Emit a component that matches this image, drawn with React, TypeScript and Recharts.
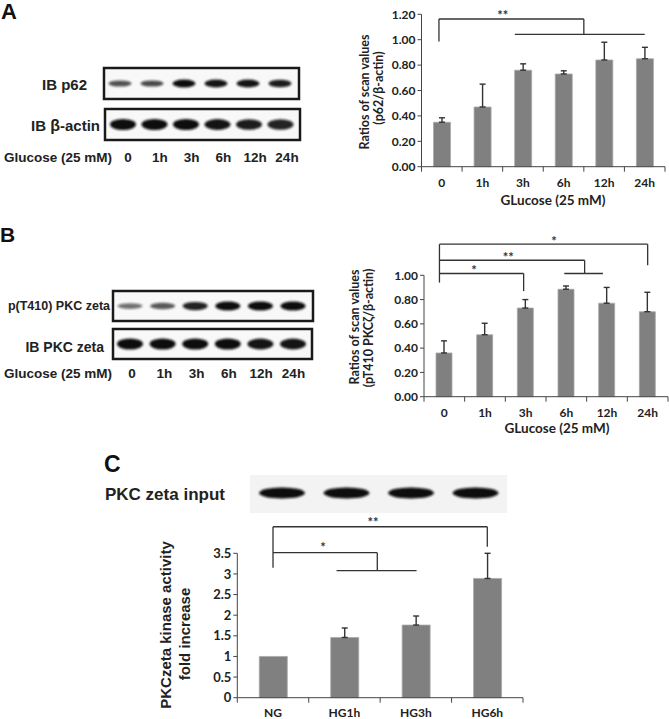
import React from "react";
import { BarChart, Bar, XAxis, YAxis, ErrorBar, ReferenceLine, ReferenceDot } from "recharts";

// A: p62 / beta-actin
const timeLabels = ["0", "1h", "3h", "6h", "12h", "24h"];
const p62Ratio = [0.35, 0.47, 0.76, 0.73, 0.84, 0.85];
const p62Err = [0.035, 0.18, 0.05, 0.025, 0.14, 0.09];
const p62Ticks = [0, 0.2, 0.4, 0.6, 0.8, 1.0, 1.2];

// B: pT410 PKCzeta / beta-actin
const pkcRatio = [0.36, 0.51, 0.73, 0.885, 0.77, 0.7];
const pkcErr = [0.1, 0.095, 0.07, 0.027, 0.13, 0.16];
const pkcTicks = [0, 0.2, 0.4, 0.6, 0.8, 1.0];

// C: kinase activity
const groupLabels = ["NG", "HG1h", "HG3h", "HG6h"];
const kinaseFold = [1.0, 1.46, 1.76, 2.89];
const kinaseErr = [null, 0.23, 0.22, 0.61];
const kinaseTicks = [0, 0.5, 1, 1.5, 2, 2.5, 3, 3.5];

// significance brackets, [x1, y1, x2, y2] in (bar index, value)
const p62Lines = [
  [-0.07, 0.985, -0.07, 1.163],
  [-0.07, 1.163, 3.5, 1.163],
  [3.5, 1.163, 3.5, 1.042],
  [1.8, 1.042, 5, 1.042],
];
const p62Stars: [number, number, string][] = [[1.5, 1.19, "**"]];

const pkcLines = [
  [-0.12, 0.94, -0.12, 1.256],
  [-0.12, 1.015, 1.95, 1.015],
  [1.95, 1.015, 1.95, 0.87],
  [-0.12, 1.124, 3.45, 1.124],
  [3.45, 1.124, 3.45, 1.015],
  [2.95, 1.015, 3.9, 1.015],
  [-0.12, 1.256, 5, 1.256],
  [5, 1.256, 5, 1.083],
];
const pkcStars: [number, number, string][] = [
  [0.73, 1.04, "*"],
  [1.57, 1.15, "**"],
  [2.7, 1.28, "*"],
];

const kinaseLines = [
  [0, 3.15, 0, 4.144],
  [0, 4.144, 3, 4.144],
  [3, 4.144, 3, 3.66],
  [0, 3.515, 1.46, 3.515],
  [1.46, 3.515, 1.46, 3.08],
  [0.89, 3.08, 2.01, 3.08],
];
const kinaseStars: [number, number, string][] = [
  [0.7, 3.65, "*"],
  [1.4, 4.25, "**"],
];

// blot band strengths per lane
const p62Bands = [0.55, 0.6, 1, 0.95, 0.95, 0.9];
const actinBands = [1, 1, 1, 0.95, 0.9, 0.85];
const pPkcBands = [0.35, 0.5, 0.85, 1, 1, 1];
const pkcBands = [1, 1, 1, 1, 0.95, 0.95];
const inputBands = [1, 1, 1, 1];

const CHART_FONT = "Lato, 'Open Sans', sans-serif";
const BLOT_FONT = "'Liberation Sans', Arial, sans-serif";
const INK = "#222";

function BoundaryTick(props: any) {
  const { x, y, payload, labels, fontSize, dy } = props;
  const v = payload.value;
  if (Number.isInteger(v)) {
    return (
      <text x={x} y={y + dy} textAnchor="middle" fill={INK} fontSize={fontSize} fontWeight={700} fontFamily={CHART_FONT}>
        {labels[v]}
      </text>
    );
  }
  return <line x1={x} x2={x} y1={y} y2={y + 5} stroke="#444" strokeWidth={1} />;
}

function SigBars(props: any) {
  const { labels, values, errors, lines, stars, yTicks, fmt, width, height, margin, barSize, tickFont, xFont, xDy, left, top } = props;
  const data = values.map((v: number, i: number) => ({
    i,
    v,
    e: errors[i] == null ? null : [0, errors[i]],
  }));
  const n = labels.length;
  const xTicks: number[] = [];
  for (let k = 0; k <= 2 * n; k++) xTicks.push(-0.5 + k * 0.5);
  return (
    <div style={{ position: "absolute", left, top }}>
      <BarChart width={width} height={height} data={data} margin={margin}>
        <XAxis
          dataKey="i"
          type="number"
          domain={[-0.5, n - 0.5]}
          ticks={xTicks}
          interval={0}
          tickSize={0}
          tickMargin={0}
          tickLine={false}
          axisLine={{ stroke: "#444" }}
          height={20}
          tick={(p: any) => <BoundaryTick {...p} labels={labels} fontSize={xFont} dy={xDy} />}
        />
        <YAxis
          type="number"
          width={40}
          domain={[0, yTicks[yTicks.length - 1]]}
          ticks={yTicks}
          interval={0}
          tickSize={4}
          tickFormatter={fmt}
          axisLine={{ stroke: "#444" }}
          tickLine={{ stroke: "#444" }}
          tick={{ fill: INK, fontSize: tickFont, fontWeight: 700, fontFamily: CHART_FONT }}
        />
        <Bar dataKey="v" fill="#808080" stroke="#a8a8a8" strokeWidth={0.8} barSize={barSize} isAnimationActive={false}>
          <ErrorBar dataKey="e" direction="y" width={3} stroke="#333" strokeWidth={1.4} />
        </Bar>
        {lines.map((s: number[], k: number) => (
          <ReferenceLine
            key={"l" + k}
            segment={[{ x: s[0], y: s[1] }, { x: s[2], y: s[3] }]}
            stroke="#333"
            strokeWidth={1.3}
            ifOverflow="visible"
          />
        ))}
        {stars.map((s: [number, number, string], k: number) => (
          <ReferenceDot
            key={"s" + k}
            x={s[0]}
            y={s[1]}
            r={1}
            fill="none"
            stroke="none"
            ifOverflow="visible"
            label={{ value: s[2], position: "center", fill: "#333", fontSize: 13, fontWeight: 700, fontFamily: CHART_FONT }}
          />
        ))}
      </BarChart>
    </div>
  );
}

function Blot({ x, y, w, h, bands, first, step, rx, ryMin, ryMax }: any) {
  return (
    <g>
      <rect x={x} y={y} width={w} height={h} fill="#f8f8f8" stroke="#1a1a1a" strokeWidth={2.5} />
      {bands.map((b: number, i: number) => (
        <ellipse
          key={i}
          cx={first + i * step}
          cy={y + h / 2}
          rx={rx}
          ry={ryMin + (ryMax - ryMin) * b}
          fill="#111"
          opacity={0.35 + 0.65 * b}
          filter="url(#blur)"
        />
      ))}
    </g>
  );
}

function LaneLabels({ y, first, step, labels }: any) {
  return (
    <g fontFamily={BLOT_FONT} fontWeight={700} fontSize={13.5} fill={INK}>
      <text x={4} y={y}>Glucose (25 mM)</text>
      {labels.map((l: string, i: number) => (
        <text key={l} x={first + i * step} y={y} textAnchor="middle">
          {l}
        </text>
      ))}
    </g>
  );
}

function VTitle({ cx, cy, text, size, family }: any) {
  return (
    <text
      transform={`translate(${cx},${cy}) rotate(-90)`}
      textAnchor="middle"
      dominantBaseline="central"
      fontFamily={family}
      fontWeight={700}
      fontSize={size}
      fill={INK}
    >
      {text}
    </text>
  );
}

export default function App() {
  const fmt2 = (v: number) => v.toFixed(2);
  const fmtC = (v: number) => String(v);
  return (
    <div style={{ position: "relative", width: 669, height: 719, background: "#fff", overflow: "hidden" }}>
      <style>{"body{margin:0;background:#fff}"}</style>
      <svg width={669} height={719} style={{ position: "absolute", left: 0, top: 0 }}>
        <defs>
          <filter id="blur" x="-20%" y="-60%" width="140%" height="220%">
            <feGaussianBlur stdDeviation="1.1" />
          </filter>
        </defs>

        {/* panel letters */}
        <g fontFamily={BLOT_FONT} fontWeight={700} fill="#111">
          <text x={1} y={19} fontSize={22}>A</text>
          <text x={0} y={242} fontSize={21}>B</text>
          <text x={104} y={472} fontSize={23}>C</text>
        </g>

        {/* A blots */}
        <Blot x={104} y={68} w={195} h={31} bands={p62Bands} first={120} step={32} rx={11.5} ryMin={1.8} ryMax={4} />
        <Blot x={105} y={109} w={195} h={31} bands={actinBands} first={123} step={31.5} rx={13} ryMin={4} ryMax={5.5} />
        <g fontFamily={BLOT_FONT} fontWeight={700} fontSize={15} fill={INK}>
          <text x={87} y={90} textAnchor="end">IB p62</text>
          <text x={100} y={131} textAnchor="end">
            IB <tspan fontSize={16}>β</tspan>-actin
          </text>
        </g>
        <LaneLabels y={162} first={128} step={31.8} labels={timeLabels} />

        {/* B blots */}
        <Blot x={113} y={291} w={200} h={30} bands={pPkcBands} first={130} step={32.6} rx={12.5} ryMin={2} ryMax={4.5} />
        <Blot x={113} y={329} w={199} h={30} bands={pkcBands} first={130} step={32.6} rx={13} ryMin={4.5} ryMax={5.5} />
        <g fontFamily={BLOT_FONT} fontWeight={700} fill={INK}>
          <text x={110} y={310} textAnchor="end" fontSize={12.5}>p(T410) PKC zeta</text>
          <text x={104} y={352} textAnchor="end" fontSize={14}>IB PKC zeta</text>
        </g>
        <LaneLabels y={378} first={132} step={32.3} labels={timeLabels} />

        {/* C blot */}
        <rect x={250} y={475} width={257} height={38} fill="#f3f3f3" />
        {inputBands.map((b, i) => (
          <ellipse key={i} cx={282 + i * 64.5} cy={493} rx={23} ry={5.5 * b} fill="#0d0d0d" filter="url(#blur)" />
        ))}
        <text x={105} y={500} fontFamily={BLOT_FONT} fontWeight={700} fontSize={17} fill={INK}>
          PKC zeta input
        </text>

        {/* axis titles */}
        <VTitle cx={364} cy={92} text="Ratios of scan values" size={12.5} family={CHART_FONT} />
        <VTitle cx={378} cy={88} text="(p62/β-actin)" size={12.5} family={CHART_FONT} />
        <text x={553} y={205} textAnchor="middle" fontFamily={CHART_FONT} fontWeight={700} fontSize={13.5} fill={INK}>
          GLucose (25 mM)
        </text>

        <VTitle cx={354} cy={327} text="Ratios of scan values" size={12.5} family={CHART_FONT} />
        <VTitle cx={368} cy={328} text="(pT410 PKCζ/β-actin)" size={12.5} family={CHART_FONT} />
        <text x={557} y={433} textAnchor="middle" fontFamily={CHART_FONT} fontWeight={700} fontSize={13.5} fill={INK}>
          GLucose (25 mM)
        </text>

        <VTitle cx={165} cy={625} text="PKCzeta kinase activity" size={15} family={BLOT_FONT} />
        <VTitle cx={184} cy={634} text="fold increase" size={15} family={BLOT_FONT} />
      </svg>

      <SigBars
        left={340}
        top={0}
        width={329}
        height={200}
        margin={{ top: 14.3, right: 4, bottom: 13.3, left: 41.5 }}
        labels={timeLabels}
        values={p62Ratio}
        errors={p62Err}
        lines={p62Lines}
        stars={p62Stars}
        yTicks={p62Ticks}
        fmt={fmt2}
        barSize={17}
        tickFont={12}
        xFont={12}
        xDy={20}
      />
      <SigBars
        left={340}
        top={220}
        width={329}
        height={220}
        margin={{ top: 55.3, right: 1, bottom: 23.3, left: 44 }}
        labels={timeLabels}
        values={pkcRatio}
        errors={pkcErr}
        lines={pkcLines}
        stars={pkcStars}
        yTicks={pkcTicks}
        fmt={fmt2}
        barSize={16}
        tickFont={12}
        xFont={12}
        xDy={20}
      />
      <SigBars
        left={150}
        top={430}
        width={380}
        height={289}
        margin={{ top: 123.3, right: 7, bottom: 1.3, left: 47.3 }}
        labels={groupLabels}
        values={kinaseFold}
        errors={kinaseErr}
        lines={kinaseLines}
        stars={kinaseStars}
        yTicks={kinaseTicks}
        fmt={fmtC}
        barSize={28}
        tickFont={13}
        xFont={12}
        xDy={19}
      />
    </div>
  );
}
